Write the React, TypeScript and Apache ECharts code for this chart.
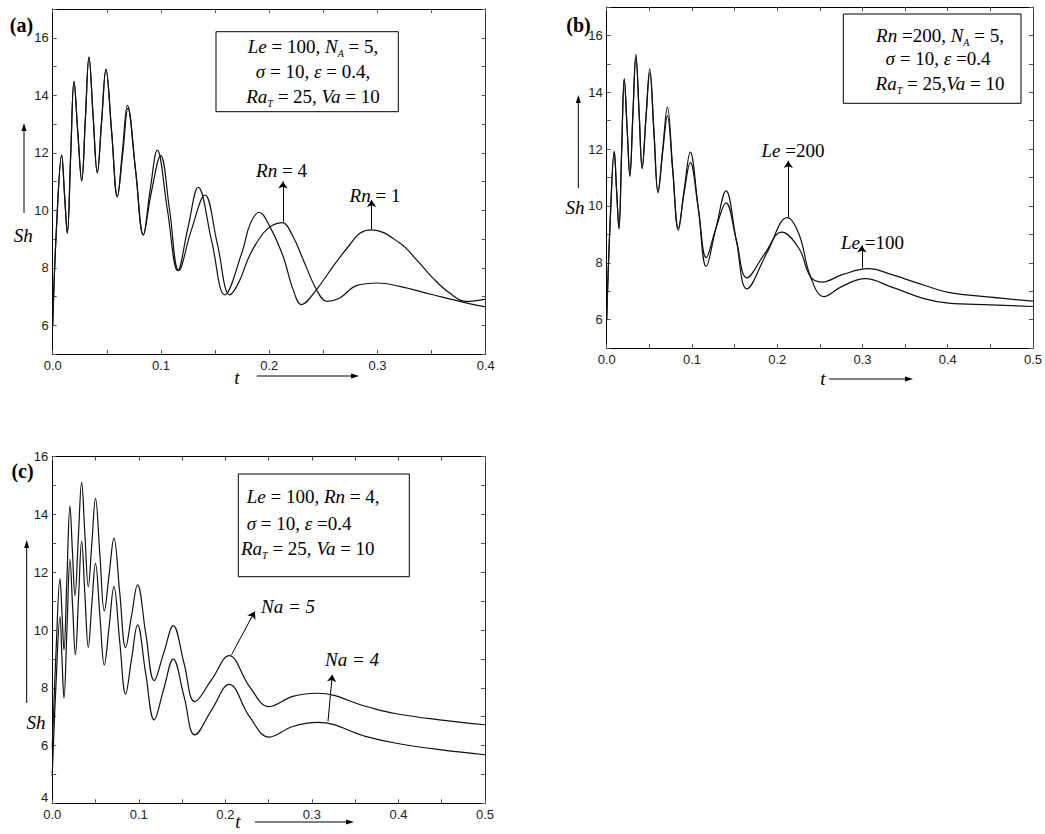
import React, { useEffect, useRef } from 'react';
import * as echarts from 'echarts';

// ---------- DATA (t, Sh) ----------
const aRn1: number[][] = [
  [0, 6.0], [0.0035, 9.4], [0.0083, 11.92], [0.011, 10.5], [0.0135, 9.2], [0.0166, 11.9], [0.0197, 14.48],
  [0.0232, 12.7], [0.0268, 11.02], [0.0302, 13.2], [0.0335, 15.33], [0.0373, 13.3], [0.0412, 11.3],
  [0.0452, 13.1], [0.0492, 14.9], [0.0545, 12.7], [0.0597, 10.47], [0.0645, 12.1], [0.069, 13.65],
  [0.0765, 11.4], [0.0837, 9.14], [0.09, 10.7], [0.0966, 12.09], [0.106, 10.0], [0.1155, 7.9],
  [0.125, 9.4], [0.1344, 10.8], [0.147, 8.9], [0.159, 7.06], [0.175, 8.55], [0.1822, 9.5],
  [0.1907, 9.93], [0.2006, 9.43], [0.2129, 8.39], [0.2221, 7.24], [0.2298, 6.72], [0.2437, 7.24],
  [0.259, 8.05], [0.2744, 8.8], [0.2837, 9.2], [0.2945, 9.32], [0.3206, 8.86], [0.336, 8.28],
  [0.3513, 7.64], [0.3667, 7.12], [0.382, 6.83], [0.4, 6.91],
];
const aRn4: number[][] = [
  [0, 6.0], [0.0035, 9.4], [0.0083, 11.92], [0.011, 10.5], [0.0135, 9.2], [0.0166, 11.9], [0.0197, 14.48],
  [0.0232, 12.7], [0.0268, 11.02], [0.0302, 13.2], [0.0335, 15.33], [0.0373, 13.3], [0.0412, 11.3],
  [0.0452, 13.1], [0.0492, 14.9], [0.0545, 12.7], [0.0597, 10.47], [0.0648, 12.0], [0.0695, 13.55],
  [0.0767, 11.35], [0.0837, 9.14], [0.091, 10.6], [0.0997, 11.9], [0.108, 10.0], [0.1165, 7.9],
  [0.128, 9.3], [0.1406, 10.53], [0.152, 8.85], [0.1637, 7.06], [0.172, 7.5], [0.1822, 8.45],
  [0.1944, 9.2], [0.203, 9.48], [0.212, 9.57], [0.2221, 9.08], [0.2314, 8.28], [0.2437, 7.24],
  [0.2535, 6.83], [0.2652, 6.95], [0.2806, 7.38], [0.3006, 7.47], [0.3206, 7.35], [0.3513, 7.06],
  [0.382, 6.78], [0.4, 6.64],
];
const bLe200: number[][] = [
  [0, 6.0], [0.004, 9.4], [0.0089, 11.91], [0.0115, 10.6], [0.0144, 9.2], [0.0175, 11.9], [0.0206, 14.47],
  [0.024, 12.7], [0.0272, 11.05], [0.0307, 13.2], [0.0342, 15.33], [0.038, 13.3], [0.0416, 11.32],
  [0.046, 13.1], [0.0505, 14.82], [0.0555, 12.6], [0.0602, 10.46], [0.0657, 12.0], [0.0712, 13.48],
  [0.0775, 11.3], [0.084, 9.14], [0.091, 10.6], [0.098, 11.89], [0.1075, 9.9], [0.1167, 7.87],
  [0.128, 9.2], [0.14, 10.53], [0.152, 8.8], [0.1645, 7.08], [0.188, 8.35], [0.2119, 9.59],
  [0.2256, 9.0], [0.2392, 7.5], [0.2547, 6.81], [0.2761, 7.17], [0.3034, 7.44], [0.3345, 7.14],
  [0.3734, 6.73], [0.4006, 6.58], [0.45, 6.52], [0.5, 6.46],
];
const bLe100: number[][] = [
  [0, 6.0], [0.004, 9.4], [0.0089, 11.91], [0.0115, 10.6], [0.0144, 9.2], [0.0175, 11.9], [0.0206, 14.47],
  [0.024, 12.7], [0.0272, 11.05], [0.0307, 13.2], [0.0342, 15.25], [0.038, 13.3], [0.0416, 11.32],
  [0.046, 13.05], [0.0505, 14.68], [0.0555, 12.5], [0.0602, 10.5], [0.0657, 11.9], [0.0712, 13.17],
  [0.0775, 11.2], [0.084, 9.22], [0.091, 10.5], [0.098, 11.52], [0.1075, 9.9], [0.1167, 8.18],
  [0.128, 9.2], [0.14, 10.11], [0.152, 8.8], [0.1645, 7.47], [0.185, 8.3], [0.2053, 9.08],
  [0.2256, 8.5], [0.2392, 7.5], [0.2528, 7.32], [0.2761, 7.58], [0.3072, 7.79], [0.3345, 7.58],
  [0.3734, 7.2], [0.4006, 6.96], [0.45, 6.79], [0.5, 6.65],
];
const cNa5: number[][] = [
  [0, 5.9], [0.0045, 9.3], [0.009, 11.77], [0.0113, 10.6], [0.0136, 9.31], [0.017, 11.8], [0.0205, 14.29],
  [0.0234, 12.7], [0.0263, 11.19], [0.0302, 13.2], [0.034, 15.11], [0.0378, 13.3], [0.0417, 11.5],
  [0.0458, 13.0], [0.05, 14.56], [0.0551, 12.6], [0.0602, 10.66], [0.0657, 11.9], [0.0713, 13.18],
  [0.078, 11.3], [0.0848, 9.39], [0.0917, 10.5], [0.0986, 11.56], [0.108, 9.9], [0.1178, 8.25],
  [0.1288, 9.2], [0.1398, 10.15], [0.1523, 8.85], [0.1648, 7.52], [0.1846, 8.3], [0.2044, 9.11],
  [0.228, 8.04], [0.2505, 7.35], [0.278, 7.7], [0.307, 7.81], [0.363, 7.35], [0.3975, 7.1],
  [0.45, 6.88], [0.5, 6.72],
];
const cNa4: number[][] = [
  [0, 4.95], [0.0045, 8.2], [0.009, 10.46], [0.0113, 9.0], [0.0136, 7.64], [0.017, 10.0], [0.0205, 12.45],
  [0.0236, 10.8], [0.0268, 9.14], [0.0304, 11.1], [0.034, 13.08], [0.0378, 11.2], [0.0417, 9.4],
  [0.0458, 10.9], [0.05, 12.31], [0.0551, 10.5], [0.0602, 8.79], [0.0657, 10.1], [0.0713, 11.5],
  [0.078, 9.6], [0.0848, 7.78], [0.0917, 9.0], [0.0986, 10.18], [0.108, 8.5], [0.1178, 6.89],
  [0.1288, 7.95], [0.1398, 8.99], [0.1523, 7.7], [0.1648, 6.37], [0.1846, 7.25], [0.2044, 8.12],
  [0.228, 7.0], [0.2505, 6.29], [0.278, 6.66], [0.307, 6.8], [0.363, 6.31], [0.3975, 6.08],
  [0.45, 5.85], [0.5, 5.68],
];

// arrows [t1, sh1, t2, sh2]
const arrowRn4 = [0.2127, 9.6, 0.2127, 11.0];
const arrowRn1 = [0.2946, 9.34, 0.2946, 10.36];
const arrowLe200 = [0.213, 9.6, 0.213, 11.58];
const arrowLe100 = [0.2993, 7.8, 0.2993, 8.61];
const arrowNa5 = [0.2071, 9.14, 0.234, 10.64];
const arrowNa4 = [0.3186, 6.83, 0.3236, 8.45];

const SERIF = 'Liberation Serif';
const SANS = 'Liberation Sans';
const FS = 19;

const RICH: any = {
  i: { fontFamily: SERIF, fontStyle: 'italic', fontSize: FS, color: '#000', lineHeight: 24 },
  n: { fontFamily: SERIF, fontSize: FS, color: '#000', lineHeight: 24 },
  s: { fontFamily: SERIF, fontStyle: 'italic', fontSize: 10, color: '#000', lineHeight: 8, verticalAlign: 'bottom' },
};

const isTenth = (v: number) => Math.abs(v * 10 - Math.round(v * 10)) < 1e-6;
const isEven = (v: number) => Math.abs(v / 2 - Math.round(v / 2)) < 1e-6;

function xAxes(gridIndex: number, max: number) {
  const tick = { inside: true, length: 4, lineStyle: { color: '#555', width: 1 } };
  return [
    {
      type: 'value', gridIndex, min: 0, max, interval: 0.05, position: 'bottom',
      axisLine: { show: true, onZero: false, lineStyle: { color: '#000', width: 1 } },
      axisTick: tick,
      axisLabel: {
        formatter: (v: number) => (isTenth(v) ? v.toFixed(1) : ''),
        fontFamily: SANS, fontSize: 13, color: '#222', margin: 5,
      },
      splitLine: { show: false },
    },
    {
      type: 'value', gridIndex, min: 0, max, interval: 0.05, position: 'top',
      axisLine: { show: true, onZero: false, lineStyle: { color: '#000', width: 1 } },
      axisTick: tick, axisLabel: { show: false }, splitLine: { show: false },
    },
  ];
}
function yAxes(gridIndex: number, min: number, max: number) {
  const tick = { inside: true, length: 4, lineStyle: { color: '#555', width: 1 } };
  return [
    {
      type: 'value', gridIndex, min, max, interval: 1, position: 'left',
      axisLine: { show: true, onZero: false, lineStyle: { color: '#000', width: 1 } },
      axisTick: tick,
      axisLabel: {
        formatter: (v: number) => (isEven(v) ? (v === min ? '{lo|' + v + '}' : String(v)) : ''),
        rich: { lo: { fontFamily: SANS, fontSize: 13, color: '#222', padding: [0, 0, 12, 0] } },
        fontFamily: SANS, fontSize: 13, color: '#222', margin: 4,
      },
      splitLine: { show: false },
    },
    {
      type: 'value', gridIndex, min, max, interval: 1, position: 'right',
      axisLine: { show: true, onZero: false, lineStyle: { color: '#333', width: 1 } },
      axisTick: tick, axisLabel: { show: false }, splitLine: { show: false },
    },
  ];
}

function arrowLine(a: number[]) {
  return {
    silent: true, symbol: ['none', 'arrow'], symbolSize: 7,
    lineStyle: { color: '#000', width: 1, type: 'solid' },
    label: { show: false },
    data: [[{ coord: [a[0], a[1]] }, { coord: [a[2], a[3]] }]],
  };
}

function line(name: string, data: number[][], axis: number, mark?: number[]) {
  const s: any = {
    type: 'line', name, data, xAxisIndex: axis, yAxisIndex: axis,
    showSymbol: false, smooth: 0.4, clip: true,
    lineStyle: { color: '#111', width: 1.2 },
  };
  if (mark) s.markLine = arrowLine(mark);
  return s;
}

function rt(text: string, x: number, y: number, align = 'center') {
  return { type: 'text', x, y, style: { text, rich: RICH, align, verticalAlign: 'middle' } };
}
function plain(text: string, x: number, y: number, bold = false) {
  return {
    type: 'text', x, y,
    style: { text, fontFamily: SERIF, fontSize: 20, fontWeight: bold ? 'bold' : 'normal', fill: '#000', align: 'center', verticalAlign: 'middle' },
  };
}
function box(x: number, y: number, w: number, h: number) {
  return { type: 'rect', shape: { x, y, width: w, height: h }, style: { fill: '#fff', stroke: '#000', lineWidth: 1 } };
}
function vArrow(x: number, yBottom: number, yTop: number) {
  return [
    { type: 'line', shape: { x1: x, y1: yBottom, x2: x, y2: yTop + 6 }, style: { stroke: '#000', lineWidth: 1 } },
    { type: 'polygon', shape: { points: [[x, yTop], [x - 2.5, yTop + 8], [x + 2.5, yTop + 8]] }, style: { fill: '#000' } },
  ];
}
function hArrow(y: number, xLeft: number, xRight: number) {
  return [
    { type: 'line', shape: { x1: xLeft, y1: y, x2: xRight - 6, y2: y }, style: { stroke: '#000', lineWidth: 1 } },
    { type: 'polygon', shape: { points: [[xRight, y], [xRight - 8, y - 2.5], [xRight - 8, y + 2.5]] }, style: { fill: '#000' } },
  ];
}

const option: any = {
  animation: false,
  backgroundColor: '#fff',
  grid: [
    { left: 52.7, top: 9, width: 433, height: 345, show: false },
    { left: 606.7, top: 7, width: 428.3, height: 341, show: false },
    { left: 52.2, top: 456.7, width: 432.8, height: 346.6, show: false },
  ],
  xAxis: [...xAxes(0, 0.4), ...xAxes(1, 0.5), ...xAxes(2, 0.5)],
  yAxis: [...yAxes(0, 5, 17), ...yAxes(1, 5, 17), ...yAxes(2, 4, 16)],
  series: [
    line('Rn = 1', aRn1, 0, arrowRn1),
    line('Rn = 4', aRn4, 0, arrowRn4),
    line('Le = 200', bLe200, 2, arrowLe200),
    line('Le = 100', bLe100, 2, arrowLe100),
    line('Na = 5', cNa5, 4, arrowNa5),
    line('Na = 4', cNa4, 4, arrowNa4),
  ],
  graphic: [
    // panel (a)
    plain('(a)', 21.5, 25, true),
    box(216, 31.7, 182.3, 80),
    rt('{i|Le}{n| = 100, }{i|N}{s|A}{n| = 5,}', 313, 46.7),
    rt('{i|σ}{n| = 10, }{i|ε}{n| = 0.4,}', 313, 71.7),
    rt('{i|Ra}{s|T}{n| = 25, }{i|Va}{n| = 10}', 313, 96.7),
    rt('{i|Rn}{n| = 4}', 281.5, 170),
    rt('{i|Rn}{n| = 1}', 375, 195),
    rt('{i|Sh}', 23.3, 235),
    ...vArrow(24, 213, 123),
    rt('{i|t}', 237, 377),
    ...hArrow(376, 256.7, 359),
    // panel (b)
    plain('(b)', 578.5, 25, true),
    box(843.3, 14, 177.7, 89.3),
    rt('{i|Rn}{n| =200, }{i|N}{s|A}{n| = 5,}', 940, 35),
    rt('{i|σ}{n| = 10, }{i|ε}{n| =0.4}', 938, 58.3),
    rt('{i|Ra}{s|T}{n| = 25,}{i|Va}{n| = 10}', 940, 83.3),
    rt('{i|Le}{n| =200}', 793, 150),
    rt('{i|Le}{n| =100}', 872.5, 242),
    rt('{i|Sh}', 575, 207),
    ...vArrow(578.3, 188, 95),
    rt('{i|t}', 823, 378),
    ...hArrow(379, 829, 913),
    // panel (c)
    plain('(c)', 22.5, 470.7, true),
    box(238.3, 474, 171, 102.7),
    rt('{i|Le}{n| = 100, }{i|Rn}{n| = 4,}', 246.7, 496.7, 'left'),
    rt('{i|σ}{n| = 10, }{i|ε}{n| =0.4}', 246.7, 523.3, 'left'),
    rt('{i|Ra}{s|T}{n| = 25, }{i|Va}{n| = 10}', 241, 548.3, 'left'),
    rt('{i|Na = 5}', 288, 606.7),
    rt('{i|Na = 4}', 352, 659),
    rt('{i|Sh}', 36, 722),
    ...vArrow(26.7, 703, 540),
    rt('{i|t}', 238, 821),
    ...hArrow(822, 255, 354),
  ],
};

export default function App() {
  const ref = useRef<HTMLDivElement>(null);
  useEffect(() => {
    const chart = echarts.init(ref.current!, null, { renderer: 'svg' });
    chart.setOption(option);
    return () => chart.dispose();
  }, []);
  return (
    <div
      ref={ref}
      style={{ position: 'absolute', left: 0, top: 0, width: 1045, height: 834, background: '#fff' }}
    />
  );
}
